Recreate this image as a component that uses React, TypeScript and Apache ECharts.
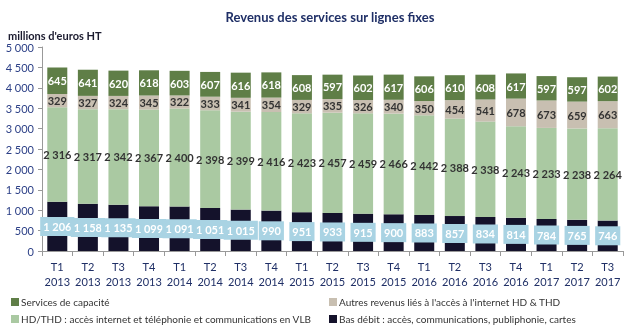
import React, { useEffect, useRef } from "react";
import * as echarts from "echarts";

const quarters = ["T1", "T2", "T3", "T4", "T1", "T2", "T3", "T4", "T1", "T2", "T3", "T4", "T1", "T2", "T3", "T4", "T1", "T2", "T3"];
const years = ["2013", "2013", "2013", "2013", "2014", "2014", "2014", "2014", "2015", "2015", "2015", "2015", "2016", "2016", "2016", "2016", "2017", "2017", "2017"];
const basDebit = [1206, 1158, 1135, 1099, 1091, 1051, 1015, 990, 951, 933, 915, 900, 883, 857, 834, 814, 784, 765, 746];
const hdThd = [2316, 2317, 2342, 2367, 2400, 2398, 2399, 2416, 2423, 2457, 2459, 2466, 2442, 2388, 2338, 2243, 2233, 2238, 2264];
const autres = [329, 327, 324, 345, 322, 333, 341, 354, 329, 335, 326, 340, 350, 454, 541, 678, 673, 659, 663];
const capacite = [645, 641, 620, 618, 603, 607, 616, 618, 608, 597, 602, 617, 606, 610, 608, 617, 597, 597, 602];
const totals = [4496, 4442, 4421, 4428, 4416, 4389, 4371, 4378, 4311, 4322, 4303, 4322, 4280, 4309, 4321, 4353, 4288, 4260, 4275];

const NAME_CAP = "Services de capacité";
const NAME_AUT = "Autres revenus liés à l'accès à l'internet HD & THD";
const NAME_HD = "HD/THD : accès internet et téléphonie et communications en VLB";
const NAME_BAS = "Bas débit : accès, communications, publiphonie, cartes";

const fmt = (v: number) => String(v).replace(/\B(?=(\d{3})+(?!\d))/g, " ");
const FONT = "Lato";
const NAVY = "#1F2F66";

export default function App() {
  const ref = useRef<HTMLDivElement>(null);
  useEffect(() => {
    if (!ref.current) return;
    const chart = echarts.init(ref.current, null, { renderer: "svg" });
    const categories = quarters.map((q, i) => q + "\n" + years[i]);
    const barW = 20;
    const base = { type: "bar", stack: "total", barWidth: barW };
    const legendAt = (name: string, left: number, top: number) => ({
      left,
      top,
      itemWidth: 8,
      itemHeight: 8,
      icon: "rect",
      data: [name],
      textStyle: { fontFamily: FONT, fontSize: 10, color: "#333", padding: [0, 0, 0, -3] },
    });
    chart.setOption({
      animation: false,
      textStyle: { fontFamily: FONT },
      title: {
        text: "Revenus des services sur lignes fixes",
        left: 325,
        textAlign: "center",
        top: 5,
        textStyle: { fontFamily: FONT, fontSize: 13, fontWeight: "bold", color: NAVY },
      },
      graphic: [
        {
          type: "text",
          left: 8,
          top: 30,
          style: { text: "millions d'euros HT", font: "bold 11px Lato", fill: "#1a1a2e" },
        },
      ],
      legend: [
        legendAt(NAME_CAP, 6, 292),
        legendAt(NAME_HD, 6, 309),
        legendAt(NAME_AUT, 324, 292),
        legendAt(NAME_BAS, 324, 309),
      ],
      grid: { left: 42, right: 17, top: 47, bottom: 77, containLabel: false },
      xAxis: {
        type: "category",
        data: categories,
        axisLine: { lineStyle: { color: "#999" } },
        axisTick: { show: true, length: 5, lineStyle: { color: "#999" } },
        axisLabel: { interval: 0, color: NAVY, fontFamily: FONT, fontSize: 11, lineHeight: 15, margin: 8 },
      },
      yAxis: {
        type: "value",
        min: 0,
        max: 5000,
        interval: 500,
        splitLine: { show: false },
        axisLine: { show: true, lineStyle: { color: "#999" } },
        axisTick: { show: true, length: 4, lineStyle: { color: "#999" } },
        axisLabel: { color: "#2B3F86", fontFamily: FONT, fontSize: 11, formatter: (v: number) => fmt(v), margin: 8 },
      },
      series: [
        {
          ...base,
          name: NAME_BAS,
          data: basDebit,
          itemStyle: { color: "#14122B" },
          label: {
            show: true,
            position: "inside",
            formatter: (p: any) => fmt(p.value),
            color: "#fff",
            fontWeight: "bold",
            fontFamily: FONT,
            fontSize: 11,
            backgroundColor: "#A9D3E3",
            padding: [4, 3],
          },
        },
        {
          ...base,
          name: NAME_HD,
          data: hdThd,
          itemStyle: { color: "#AAC9A2" },
          label: {
            show: true,
            position: "inside",
            formatter: (p: any) => fmt(p.value),
            color: "#333",
            fontWeight: "bold",
            fontFamily: FONT,
            fontSize: 11,
          },
        },
        {
          ...base,
          name: NAME_AUT,
          data: autres,
          itemStyle: { color: "#C8BFB1" },
          label: {
            show: true,
            position: "inside",
            formatter: (p: any) => fmt(p.value),
            color: "#333",
            fontWeight: "bold",
            fontFamily: FONT,
            fontSize: 11,
          },
        },
        {
          ...base,
          name: NAME_CAP,
          data: capacite,
          itemStyle: { color: "#5F7E47" },
          label: {
            show: true,
            position: "inside",
            formatter: (p: any) => fmt(p.value),
            color: "#fff",
            fontWeight: "bold",
            fontFamily: FONT,
            fontSize: 11,
          },
        },
        {
          type: "line",
          name: "Total",
          data: totals,
          symbol: "none",
          lineStyle: { opacity: 0 },
          silent: true,
          label: {
            show: true,
            position: "top",
            distance: 10,
            formatter: (p: any) => fmt(p.value),
            color: NAVY,
            fontWeight: "bold",
            fontFamily: FONT,
            fontSize: 11.5,
          },
        },
      ],
    });
    return () => chart.dispose();
  }, []);
  return <div ref={ref} style={{ position: "fixed", left: 0, top: 0, width: 640, height: 328 }} />;
}
